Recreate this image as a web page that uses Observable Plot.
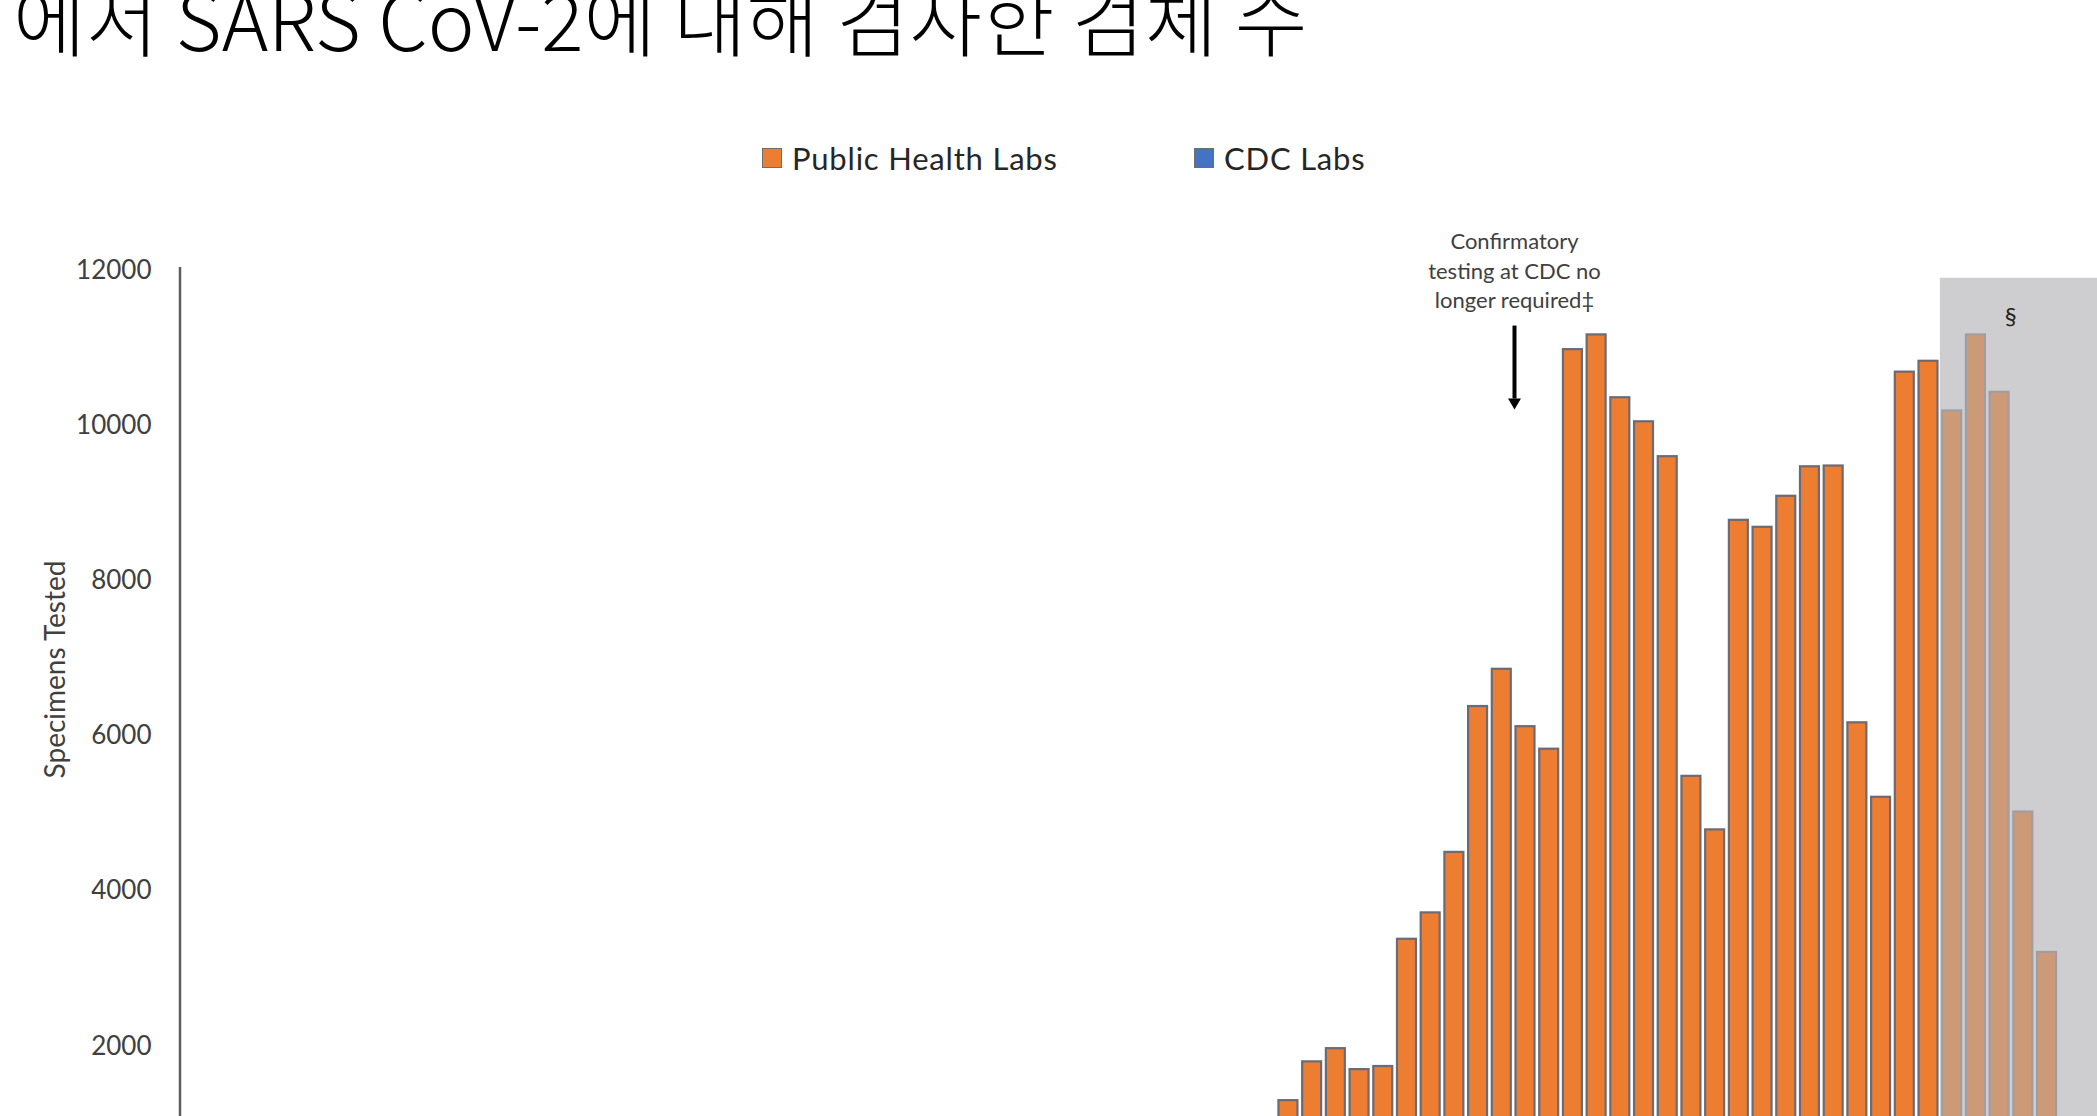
<!DOCTYPE html>
<html>
<head>
<meta charset="utf-8">
<script src="https://cdn.jsdelivr.net/npm/d3@7"></script>
<script src="https://cdn.jsdelivr.net/npm/@observablehq/plot@0.6"></script>
<style>
html, body { margin: 0; padding: 0; background: #fff; overflow: hidden; width: 2097px; height: 1116px; }
#title { position: absolute; left: 13px; top: -23px; font-family: "Noto Sans CJK KR"; font-weight: 300; font-size: 79px; line-height: 1; white-space: nowrap; color: #000; }
#legend { position: absolute; top: 0; left: 0; width: 2097px; height: 200px; }
.item { position: absolute; top: 141px; height: 34px; line-height: 34px; display: flex; align-items: center; font-family: Lato; font-size: 31px; letter-spacing: 0.8px; color: #262626; white-space: nowrap; }
.sw { width: 18px; height: 18px; border: 1.5px solid #6d6d6d; margin-right: 10px; }
#chart { position: absolute; top: 200px; left: 0; }
</style>
</head>
<body>
<div id="title"></div>
<div id="legend"></div>
<div id="chart"></div>
<script>
// ---- data ----
const titleText = "에서 SARS CoV-2에 대해 검사한 검체 수";
const yLabel = "Specimens Tested";
const series = ["CDC Labs", "Public Health Labs"];
const seriesColors = ["#4472c4", "#ed7d31"];
const seriesColorsIncomplete = ["#8d9fc1", "#cd9a78"];

const dates = [
  "1/18","1/19","1/20","1/21","1/22","1/23","1/24","1/25","1/26","1/27","1/28","1/29","1/30","1/31",
  "2/1","2/2","2/3","2/4","2/5","2/6","2/7","2/8","2/9","2/10","2/11","2/12","2/13","2/14","2/15",
  "2/16","2/17","2/18","2/19","2/20","2/21","2/22","2/23","2/24","2/25","2/26","2/27","2/28","2/29",
  "3/1","3/2","3/3","3/4","3/5","3/6","3/7","3/8","3/9","3/10","3/11","3/12","3/13","3/14","3/15",
  "3/16","3/17","3/18","3/19","3/20","3/21","3/22","3/23","3/24","3/25","3/26","3/27","3/28","3/29",
  "3/30","3/31","4/1","4/2","4/3","4/4","4/5"
];

const cdcLabs = [
  4, 0, 2, 7, 5, 1, 12, 9, 3, 14, 6, 20, 25, 11,
  8, 17, 9, 21, 15, 30, 12, 9, 27, 35, 18, 22, 40, 16, 28,
  33, 24, 48, 60, 52, 75, 38, 110, 146, 152, 190, 87, 230, 260,
  310, 280, 350, 150, 120, 130, 90, 110, 80, 60, 70, 50, 60, 40, 35,
  30, 45, 40, 30, 25, 35, 20, 30, 25, 20, 30, 25, 20, 15, 25,
  20, 15, 20, 10, 10, 5
];

const publicHealthLabs = [
  0, 0, 0, 0, 0, 0, 0, 0, 0, 0, 0, 0, 0, 0,
  0, 0, 0, 0, 0, 0, 0, 0, 0, 0, 0, 0, 0, 0, 0,
  0, 0, 0, 0, 0, 0, 0, 0, 0, 0, 40, 85, 150, 210,
  330, 460, 590, 1150, 1680, 1840, 1610, 1630, 3300, 3660, 4430, 6330, 6800, 6080, 5795,
  10950, 11125, 10320, 10020, 9575, 5445, 4770, 8750, 8665, 9070, 9440, 9455, 6150, 5195, 10665,
  10810, 10175, 11150, 10420, 5010, 3205
];

const yTicks = [2000, 4000, 6000, 8000, 10000, 12000];
const incompleteFrom = "4/1";      // data for recent dates may be incomplete (§)
const shadeTop = 11900;
const annotation = {date: "3/14", textY: 12013, arrowFrom: 11290, arrowTo: 10350, headY: 10303,
  label: "Confirmatory\ntesting at CDC no\nlonger required‡"};
const sectionMark = {date: "4/3", y: 11395, label: "§"};

// ---- title & legend ----
document.getElementById("title").textContent = titleText;
const legendPos = [1194, 762];
const legend = document.getElementById("legend");
[1, 0].forEach(i => {
  const it = document.createElement("div");
  it.className = "item";
  it.style.left = legendPos[i] + "px";
  const sw = document.createElement("span");
  sw.className = "sw";
  sw.style.background = seriesColors[i];
  it.appendChild(sw);
  it.appendChild(document.createTextNode(series[i]));
  legend.appendChild(it);
});

// ---- table ----
const firstIncomplete = dates.indexOf(incompleteFrom);
const table = dates.flatMap((date, i) => [
  {date, lab: series[0], s: 0, value: cdcLabs[i], inc: i >= firstIncomplete},
  {date, lab: series[1], s: 1, value: publicHealthLabs[i], inc: i >= firstIncomplete}
]);

function shade(index, scales, values, dims) {
  const x = scales.x, y = scales.y;
  const step = x.step(), bw = x.bandwidth();
  const x0 = x(incompleteFrom) - (step - bw) / 2;
  return d3.create("svg:rect")
    .attr("x", x0).attr("y", y(shadeTop))
    .attr("width", dims.width - x0).attr("height", y(0) - y(shadeTop))
    .attr("fill", "#cecdcf").node();
}
function axisLine(index, scales, values, dims) {
  const y = scales.y;
  return d3.create("svg:line")
    .attr("x1", dims.marginLeft).attr("x2", dims.marginLeft)
    .attr("y1", y(yTicks[yTicks.length - 1]) - 3).attr("y2", y(0))
    .attr("stroke", "#5e5e5e").attr("stroke-width", 2.5).node();
}

const plot = Plot.plot({
  width: 2097,
  height: 1051,
  marginTop: 70,
  marginBottom: 50,
  marginLeft: 180,
  marginRight: 33,
  style: {fontFamily: "Lato", background: "transparent", overflow: "visible"},
  x: {type: "band", domain: dates, paddingInner: 0.2, paddingOuter: 0.337, axis: null},
  y: {domain: [0, 12000], axis: null},
  color: {type: "identity"},
  marks: [
    shade,
    Plot.barY(table, {
      x: "date", y: "value",
      fill: d => (d.inc ? seriesColorsIncomplete : seriesColors)[d.s],
      stroke: d => d.inc ? "#a09ea3" : "#6c6a74",
      strokeWidth: 2.2
    }),
    axisLine,
    Plot.axisY({ticks: yTicks, tickSize: 0, tickPadding: 29, tickFormat: d => String(d),
      fontSize: 26, fill: "#404040", label: null}),
    Plot.text([yLabel], {frameAnchor: "top-left", dx: -124, dy: 399, rotate: -90,
      fontSize: 28, fill: "#404040", textAnchor: "middle", lineAnchor: "middle"}),
    Plot.text([annotation], {x: "date", y: "textY", text: "label", dx: -11,
      fontSize: 22, lineHeight: 1.34, fill: "#404040", lineAnchor: "middle"}),
    Plot.link([annotation], {x1: "date", x2: "date", y1: "arrowFrom", y2: "arrowTo", dx: -11,
      stroke: "#000", strokeWidth: 4}),
    Plot.dot([annotation], {x: "date", y: "headY", dx: -11, symbol: "triangle", rotate: 180, r: 4.8,
      fill: "#000", stroke: null}),
    Plot.text([sectionMark], {x: "date", y: "y", text: "label", dx: 11, fontSize: 24, fill: "#262626"})
  ]
});
document.getElementById("chart").appendChild(plot);
</script>
</body>
</html>
